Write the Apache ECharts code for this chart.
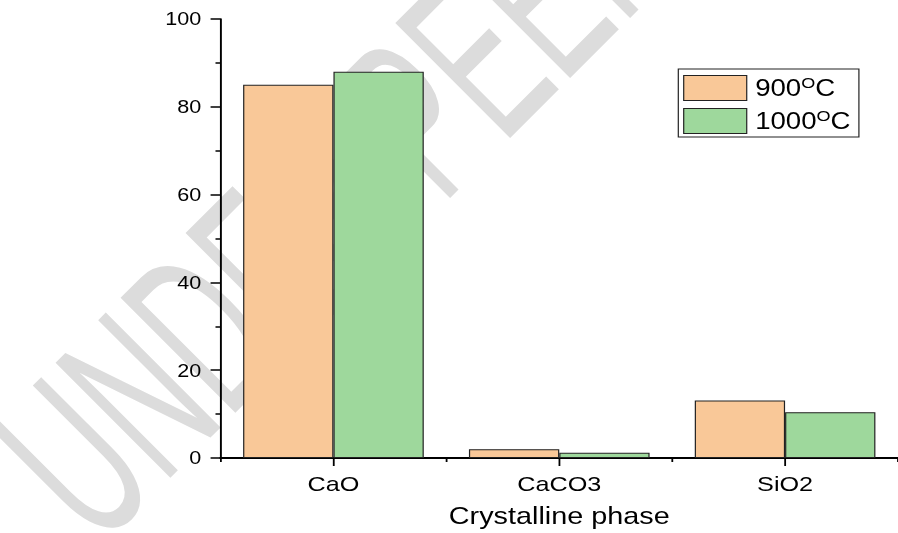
<!DOCTYPE html>
<html>
<head>
<meta charset="utf-8">
<script src="https://cdn.jsdelivr.net/npm/echarts@6/dist/echarts.min.js"></script>
<style>
  html, body { margin: 0; padding: 0; background: #fff; width: 898px; height: 533px; overflow: hidden; }
  #mark { position: absolute; left: 0; top: 0; width: 898px; height: 533px; }
  /* the plot is laid out narrower and widened horizontally */
  #chart { position: absolute; left: 0; top: 0; width: 748px; height: 533px;
           transform: scaleX(1.20053); transform-origin: 0 0; }
</style>
</head>
<body>
<div id="mark"></div>
<div id="chart"></div>
<script>
// Phase content (%) for each crystalline phase at the two calcination temperatures
const categories = ['CaO', 'CaCO3', 'SiO2'];
const seriesNames = ['900', '1000'];
const values900 = [85, 2, 13.1];
const values1000 = [88, 1.2, 10.4];
const yMin = 0;
const yMax = 100;
const yStep = 20;
const axisTitle = 'Crystalline phase';
const stampText = 'UNDER PEER REVIEW';

const font = 'Liberation Sans';

// background stamp
const mark = echarts.init(document.getElementById('mark'), null, { renderer: 'canvas' });
mark.setOption({
  animation: false,
  graphic: [{
    type: 'text',
    x: 52, y: 504,
    rotation: Math.PI / 4,
    scaleX: 0.539,
    z: 0,
    style: {
      text: stampText,
      font: '236px "Liberation Sans"',
      fill: '#dcdcdc',
      textAlign: 'left',
      verticalAlign: 'middle',
      textVerticalAlign: 'middle'
    }
  }]
});

const chart = echarts.init(document.getElementById('chart'), null, { renderer: 'svg' });
chart.setOption({
  backgroundColor: 'transparent',
  animation: false,
  textStyle: { fontFamily: font },
  grid: { left: 183.7, right: -7.9, top: 19, bottom: 70, containLabel: false },
  legend: {
    left: 565, top: 69,
    orient: 'vertical',
    icon: 'rect',
    itemWidth: 52.5, itemHeight: 25, itemGap: 7,
    padding: [6, 7, 3, 4],
    borderColor: '#222', borderWidth: 1,
    itemStyle: { borderColor: '#222', borderWidth: 1 },
    formatter: n => '{n|' + n + '}{s|O}{n|C}',
    textStyle: {
      color: '#000', fontFamily: font, fontSize: 23, padding: [0, 0, 0, 2],
      rich: {
        n: { fontSize: 23, fontFamily: font, color: '#000', lineHeight: 25 },
        s: { fontSize: 15, fontFamily: font, color: '#000', lineHeight: 8, verticalAlign: 'top' }
      }
    },
    data: seriesNames
  },
  xAxis: [{
    type: 'category',
    data: categories,
    axisLine: { lineStyle: { color: '#000', width: 2 } },
    axisTick: { show: true, length: 4, lineStyle: { color: '#000', width: 1.5 } },
    axisLabel: { color: '#000', fontSize: 21, fontFamily: font, margin: 15 },
    name: axisTitle,
    nameLocation: 'middle',
    nameGap: 46,
    nameTextStyle: { color: '#000', fontSize: 24, fontFamily: font }
  }, {
    type: 'category',
    data: categories,
    position: 'bottom',
    axisLine: { show: false },
    axisTick: { show: true, alignWithLabel: true, length: 8, lineStyle: { color: '#000', width: 1.5 } },
    axisLabel: { show: false }
  }],
  yAxis: {
    type: 'value',
    min: yMin, max: yMax, interval: yStep,
    axisLine: { show: true, lineStyle: { color: '#000', width: 1.6 } },
    axisTick: { show: true, length: 8.3, lineStyle: { color: '#000', width: 1.5 } },
    minorTick: { show: true, splitNumber: 2, length: 4.2, lineStyle: { color: '#000', width: 1.5 } },
    splitLine: { show: false },
    axisLabel: { color: '#000', fontSize: 18, fontFamily: font, margin: 16 }
  },
  series: [{
    name: seriesNames[0],
    type: 'bar',
    data: values900,
    barGap: '0%',
    barCategoryGap: '20%',
    itemStyle: { color: '#F9C898', borderColor: '#222', borderWidth: 1 }
  }, {
    name: seriesNames[1],
    type: 'bar',
    data: values1000,
    barGap: '0%',
    barCategoryGap: '20%',
    itemStyle: { color: '#9ED89C', borderColor: '#222', borderWidth: 1 }
  }]
});
</script>
</body>
</html>
